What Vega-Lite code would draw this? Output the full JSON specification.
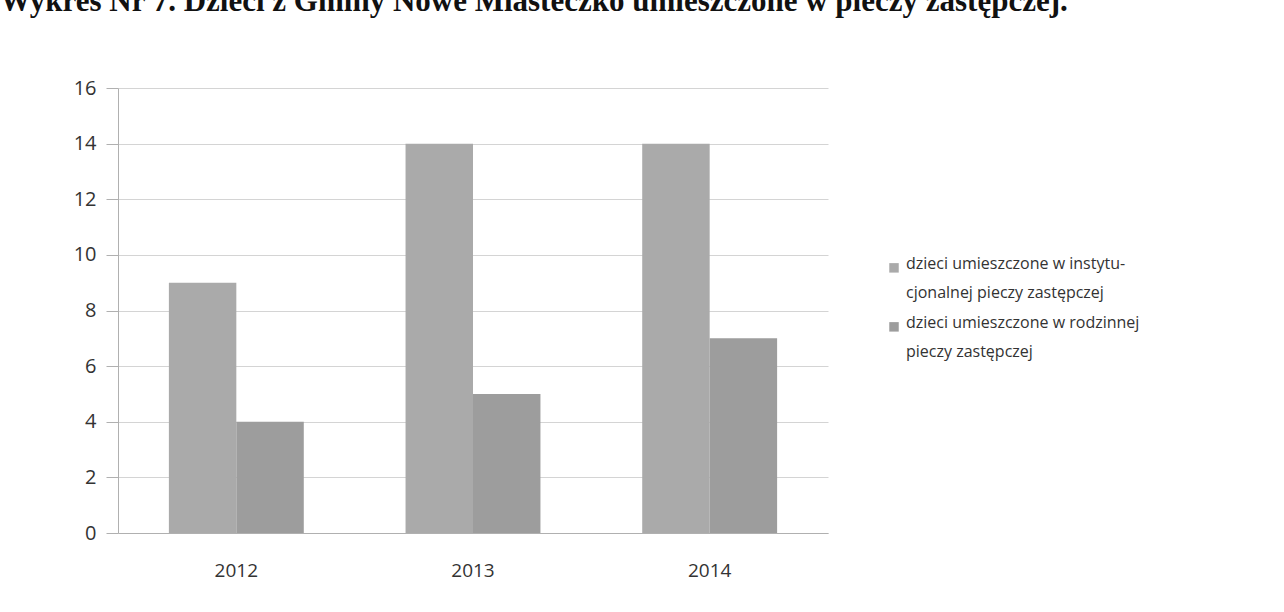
{
  "$schema": "https://vega.github.io/schema/vega-lite/v6.json",
  "autosize": {"type": "none"},
  "width": 710,
  "height": 445,
  "padding": {"left": 118, "top": 88, "right": 456, "bottom": 79},
  "background": "white",
  "title": {
    "text": "Wykres Nr 7. Dzieci z Gminy Nowe Miasteczko umieszczone w pieczy zastępczej.",
    "font": "Liberation Serif",
    "fontSize": 31,
    "fontWeight": "bold",
    "color": "#111111",
    "anchor": "start",
    "frame": "group",
    "dx": -118,
    "offset": 29,
    "baseline": "bottom"
  },
  "data": {
    "values": [
      {"rok": "2012", "seria": "dzieci umieszczone w instytucjonalnej pieczy zastępczej", "liczba": 9},
      {"rok": "2012", "seria": "dzieci umieszczone w rodzinnej pieczy zastępczej", "liczba": 4},
      {"rok": "2013", "seria": "dzieci umieszczone w instytucjonalnej pieczy zastępczej", "liczba": 14},
      {"rok": "2013", "seria": "dzieci umieszczone w rodzinnej pieczy zastępczej", "liczba": 5},
      {"rok": "2014", "seria": "dzieci umieszczone w instytucjonalnej pieczy zastępczej", "liczba": 14},
      {"rok": "2014", "seria": "dzieci umieszczone w rodzinnej pieczy zastępczej", "liczba": 7}
    ]
  },
  "mark": {"type": "bar"},
  "encoding": {
    "x": {
      "field": "rok",
      "type": "nominal",
      "scale": {"paddingInner": 0.43, "paddingOuter": 0.215},
      "axis": {
        "title": null,
        "labelAngle": 0,
        "labelFont": "Open Sans",
        "labelFontSize": 19,
        "labelColor": "#333333",
        "labelPadding": 28,
        "ticks": false,
        "domainColor": "#b0b0b0",
        "grid": false
      }
    },
    "xOffset": {"field": "seria", "type": "nominal"},
    "y": {
      "field": "liczba",
      "type": "quantitative",
      "scale": {"domain": [0, 16]},
      "axis": {
        "title": null,
        "values": [0, 2, 4, 6, 8, 10, 12, 14, 16],
        "labelFont": "Open Sans",
        "labelFontSize": 20,
        "labelColor": "#333333",
        "labelPadding": 10,
        "tickSize": 12,
        "tickColor": "#b0b0b0",
        "domainColor": "#b0b0b0",
        "gridColor": "#d4d4d4"
      }
    },
    "color": {
      "field": "seria",
      "type": "nominal",
      "scale": {"range": ["#aaaaaa", "#9d9d9d"]},
      "legend": {
        "title": null,
        "orient": "none",
        "legendX": 768,
        "legendY": 160,
        "symbolType": "M-1,1.5H1V3.5H-1Z",
        "symbolSize": 90,
        "symbolStrokeWidth": 0,
        "labelFont": "Open Sans",
        "labelFontSize": 16,
        "labelColor": "#333333",
        "labelBaseline": "top",
        "labelLimit": 400,
        "rowPadding": 6,
        "labelExpr": "indexof(datum.label, 'instytucjonalnej') >= 0 ? ['dzieci umieszczone w instytu-', 'cjonalnej pieczy zastępczej'] : ['dzieci umieszczone w rodzinnej', 'pieczy zastępczej']"
      }
    }
  },
  "config": {
    "view": {"stroke": null},
    "style": {"guide-label": {"lineHeight": 29}}
  }
}
